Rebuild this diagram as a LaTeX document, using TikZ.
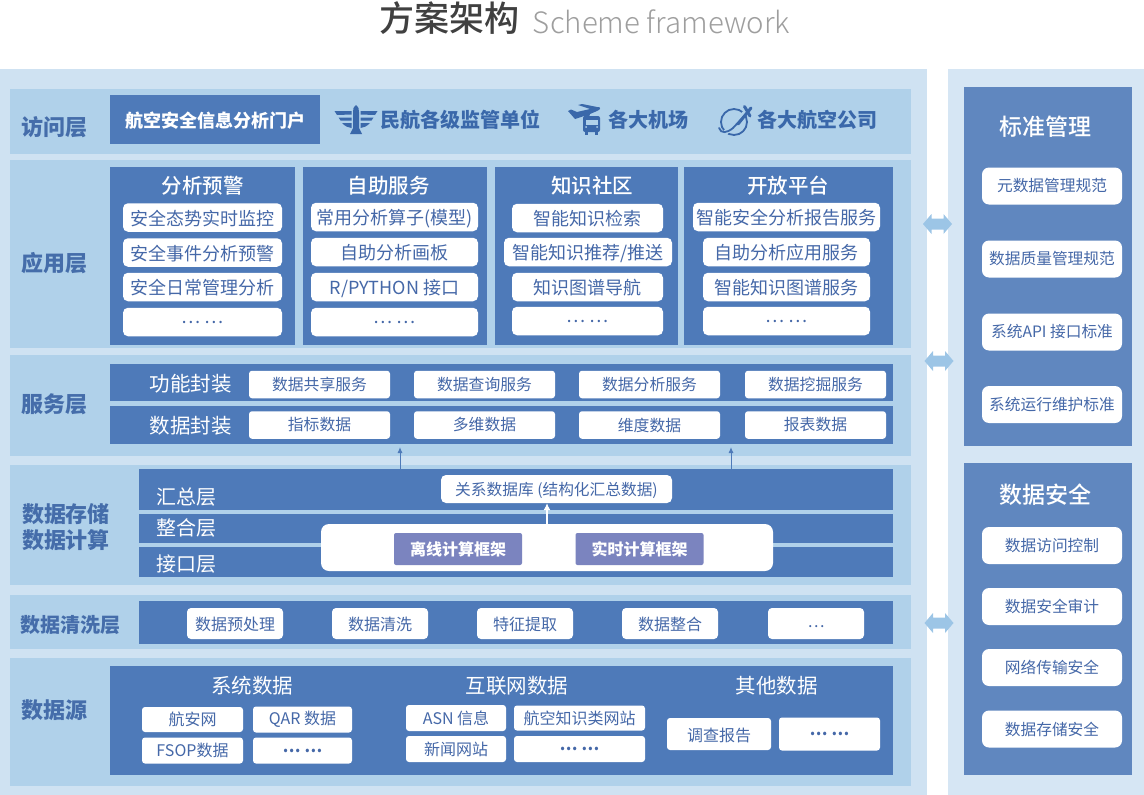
\documentclass[tikz,border=0pt]{standalone}
\usepackage{fontspec}
\setmainfont{Noto Sans CJK SC}
\newfontfamily\medfont{Noto Sans CJK SC}[UprightFont=* Medium]
\newfontfamily\lightfont{Noto Sans CJK SC}[UprightFont=* Light]
\usetikzlibrary{arrows.meta}
\definecolor{panelblue}{HTML}{CFE2F2}
\definecolor{panelright}{HTML}{D6E6F4}
\definecolor{bandblue}{HTML}{B0D1EA}
\definecolor{deepblue}{HTML}{4E7AB9}
\definecolor{sideblue}{HTML}{6087BF}
\definecolor{purpleblue}{HTML}{7B84BF}
\definecolor{labelblue}{HTML}{456DAA}
\definecolor{boxtext}{HTML}{4568A8}
\definecolor{iconblue}{HTML}{3A68AA}
\definecolor{arrowblue}{HTML}{9CC5E6}
\newcommand{\fsz}[1]{\fontsize{#1}{#1}\selectfont}
\newcommand{\lowertext}[1]{\raisebox{-1pt}[.88em][.12em]{#1}}
\tikzset{
  whitebox/.style={fill=white,rounded corners=5pt,inner sep=0pt,text=boxtext},
  purplebox/.style={fill=purpleblue,rounded corners=2pt,inner sep=0pt,text=white,font=\fsz{16}\bfseries},
  laylabel/.style={text=labelblue,font=\fsz{22}\bfseries,inner sep=0pt},
  whitelabel/.style={text=white,inner sep=0pt},
  iconlabel/.style={text=iconblue,font=\fsz{20}\bfseries,inner sep=0pt},
  smallarrow/.style={-{Latex[length=6pt,width=5pt]},deepblue,line width=1pt},
}
\begin{document}
\begin{tikzpicture}[x=1pt,y=-1pt]
  \useasboundingbox (0,0) rectangle (1144,795);

  % Title
  \node[inner sep=0pt,text=black!75,font=\fsz{35}\medfont] (title) at (449.5,18) {方案架构};
  \node[inner sep=0pt,text=black!38,font=\fsz{29.4}\lightfont] (subtitle) at (661.5,21.5) {Scheme framework};

  % Outer panels
  \fill[panelblue] (0,69) rectangle (927,795);
  \fill[panelright] (948,69) rectangle (1144,795);
  \foreach \ya/\yb in {89/154,160/348,355/456,465/585,595/649,658/786} {
    \fill[bandblue] (10,\ya) rectangle (911,\yb);
  }

  % Layer names
  \foreach \n/\x/\y/\t in {lfang/54/127/访问层,lying/54/263/应用层,lfu/54/404/服务层,
    lcun/66/514.5/数据存储,lji/66/540.5/数据计算,lyuan/54/710/数据源} {
    \node[laylabel] (\n) at (\x,\y) {\t};
  }
  \node[laylabel,font=\fsz{20}\bfseries] (lqing) at (70.5,625) {数据清洗层};

  % Access layer
  \fill[deepblue] (110,95) rectangle (320,144);
  \node[whitelabel,font=\fsz{18}\bfseries] (portal) at (215,120.5) {航空安全信息分析门户};
  \node[iconlabel] (minhang) at (460.5,120) {民航各级监管单位};
  \node[iconlabel] (jichang) at (648,120) {各大机场};
  \node[iconlabel] (hangkong) at (817.5,120) {各大航空公司};

  % Wing icon
  \foreach \s in {-1,1} {
    \begin{scope}[shift={(356,0)},xscale=\s]
      \fill[iconblue] (21.5,111) -- (4.5,111) -- (4.5,114.5) -- (19,115) -- cycle;
      \fill[iconblue] (17.5,117.5) -- (4.5,117.5) -- (4.5,120.5) -- (15.5,120.5) -- cycle;
      \fill[iconblue] (14,123) -- (4.5,123) -- (4.5,128) .. controls (8,128) and (11,126) .. (14,123) -- cycle;
      \fill[iconblue] (0,105) .. controls (2.5,106) and (3,109) .. (3,112) -- (3,128) -- (6,134) -- (0,134) -- cycle;
    \end{scope}
  }

  % Plane and bus icon
  \fill[iconblue] (568,111) -- (571,109.5) -- (577,112) -- (590,109) -- (578,105) -- (582,104) -- (597,107)
    .. controls (601,106) and (601,110) .. (597,111) -- (590,114) -- (588,120) -- (584,121) -- (584,116)
    -- (575,119) -- cycle;
  \fill[iconblue,rounded corners=2pt] (583,116) rectangle (600,132);
  \fill[iconblue] (585,131) rectangle (588,135);
  \fill[iconblue] (595,131) rectangle (598,135);
  \fill[bandblue] (585.5,120) rectangle (597.5,125);
  \fill[bandblue] (586,127) circle (1);
  \fill[bandblue] (597,127) circle (1);

  % Globe and plane icon
  \draw[iconblue,line width=1.8pt] (734,122) circle (13);
  \draw[bandblue,line width=5pt] (725,133) -- (752,106);
  \draw[iconblue,line width=1.8pt,line cap=round] (719,128) .. controls (721,134) and (727,133) .. (733,128) -- (746,114);
  \draw[iconblue,line width=3pt,line cap=round] (738,124) -- (751,108);
  \draw[iconblue,line width=3pt,line cap=round] (744.5,106.5) -- (750,116);

  % Application layer
  \foreach \ax/\bx/\hx/\t in {110/295/202.5/分析预警,303/487/388.5/自助服务,495/678/592/知识社区,684/893/788/开放平台} {
    \fill[deepblue] (\ax,167) rectangle (\bx,345);
    \node[whitelabel,font=\fsz{20.5}\medfont] (head\hx) at (\hx,185.5) {\t};
  }
  \begin{scope}[every node/.append style={font=\fsz{18}}]
    \foreach \n/\x/\y/\w/\t in {
      ana1/202.5/217.5/159/安全态势实时监控,ana2/202.5/252.5/159/安全事件分析预警,ana3/202.5/287/159/安全日常管理分析,ana4/202.5/322/159/\raisebox{6pt}{… …},
      ser1/394.5/217/167/{常用分析算子(模型)},ser2/394.5/252/167/自助分析画板,ser3/394.5/287/167/{R/PYTHON 接口},ser4/394.5/322/167/\raisebox{6pt}{… …},
      kno1/587.5/218/151/智能知识检索,kno2/588/252/168/{智能知识推荐/推送},kno3/587.5/287/151/知识图谱导航,kno4/587.5/321/151/\raisebox{6pt}{… …},
      ope1/786.5/217/187/智能安全分析报告服务,ope2/786.5/252/167/自助分析应用服务,ope3/786.5/287/167/智能知识图谱服务,ope4/786.5/321/167/\raisebox{6pt}{… …}} {
      \node[whitebox,minimum width=\w pt,minimum height=28.5pt] (\n) at (\x,\y) {\lowertext{\t}};
    }
  \end{scope}

  % Service layer
  \fill[deepblue] (110,364) rectangle (893,401);
  \fill[deepblue] (110,406) rectangle (893,444);
  \node[whitelabel,font=\fsz{20.5}] (gong) at (190.5,383.5) {功能封装};
  \node[whitelabel,font=\fsz{20.5}] (feng) at (190.5,425.5) {数据封装};
  \foreach \n/\x/\y/\t in {
    gx1/319.5/384.5/数据共享服务,gx2/484.5/384.5/数据查询服务,gx3/649.5/384.5/数据分析服务,gx4/815.5/384.5/数据挖掘服务,
    sj1/319.5/425/指标数据,sj2/484.5/425/多维数据,sj3/649.5/425/维度数据,sj4/815.5/425/报表数据} {
    \node[whitebox,font=\fsz{15.8},minimum width=141pt,minimum height=27.5pt,rounded corners=3pt] (\n) at (\x,\y) {\t};
  }

  % Storage and computing layer
  \fill[deepblue] (139,469) rectangle (893,510);
  \fill[deepblue] (139,514) rectangle (893,543);
  \fill[deepblue] (139,547) rectangle (893,577);
  \foreach \n/\y/\t in {hui/496.5/汇总层,zheng/527.5/整合层,jie/563.5/接口层} {
    \node[whitelabel,font=\fsz{20}] (\n) at (186.5,\y) {\t};
  }
  \node[whitebox,font=\fsz{15.7},minimum width=231pt,minimum height=28pt] (rdb) at (556.5,489) {\lowertext{关系数据库 (结构化汇总数据)}};
  \node[whitebox,minimum width=452pt,minimum height=47pt,rounded corners=8pt] (frame) at (547,547.5) {};
  \node[purplebox,minimum width=128pt,minimum height=32pt] (offline) at (458,549) {离线计算框架};
  \node[purplebox,minimum width=128pt,minimum height=32pt] (realtime) at (639.5,549) {实时计算框架};
  \coordinate (up1a) at (400,476);
  \coordinate (up1b) at (400,447);
  \coordinate (up2a) at (731,476);
  \coordinate (up2b) at (731,447);
  \draw[smallarrow] (up1a) -- (up1b);
  \draw[smallarrow] (up2a) -- (up2b);
  \draw[-{Latex[length=7pt,width=7pt]},white,line width=1.2pt] (frame.north) -- (frame.north |- rdb.south);

  % Cleaning layer
  \fill[deepblue] (139,601) rectangle (893,644);
  \foreach \n/\x/\t in {cl1/235/数据预处理,cl2/380/数据清洗,cl3/525/特征提取,cl4/670/数据整合,cl5/816/\raisebox{3pt}{…}} {
    \node[whitebox,font=\fsz{16},minimum width=96pt,minimum height=31pt,rounded corners=4pt] (\n) at (\x,623.5) {\lowertext{\t}};
  }

  % Data sources
  \fill[deepblue] (110,666) rectangle (893,775);
  \node[whitelabel,font=\fsz{20.5}] (sys) at (252,685.5) {系统数据};
  \node[whitelabel,font=\fsz{20.5}] (net) at (517,685.5) {互联网数据};
  \node[whitelabel,font=\fsz{20.5}] (oth) at (776.5,685.5) {其他数据};
  \foreach \n/\x/\y/\w/\h/\t in {
    src1/192.5/719.5/101/25/航安网,src2/302.5/719.5/99/26/QAR 数据,src3/192.5/750.5/101/26/FSOP数据,src4/302.5/750.5/99/26/\textbf{… …},
    src5/456/718/100/26/ASN 信息,src6/579.5/718/131/25/航空知识类网站,src7/456/749/100/26/新闻网站,src8/579.5/749/131/26/\textbf{… …},
    src9/719/734/104/32/\lowertext{调查报告},src10/829.5/734/101/33/\textbf{… …}} {
    \node[whitebox,font=\fsz{16},minimum width=\w pt,minimum height=\h pt,rounded corners=3pt] (\n) at (\x,\y) {\t};
  }

  % Standards and security columns
  \fill[sideblue] (964,87) rectangle (1132,446);
  \fill[sideblue] (964,463) rectangle (1132,775);
  \node[whitelabel,font=\fsz{23}\medfont] (std) at (1045.5,126.5) {标准管理};
  \node[whitelabel,font=\fsz{23}\medfont] (sec) at (1045.5,494.5) {数据安全};
  \foreach \n/\y/\t in {
    st1/186/元数据管理规范,st2/259/数据质量管理规范,st3/332/系统API 接口标准,st4/404.5/系统运行维护标准,
    se1/545.5/数据访问控制,se2/606.5/数据安全审计,se3/667.5/网络传输安全,se4/729/数据存储安全} {
    \node[whitebox,font=\fsz{15.7},minimum width=140pt,minimum height=37pt,rounded corners=7pt] (\n) at (1052,\y) {\t};
  }

  % Arrows between the panels
  \foreach \n/\x/\y in {link1/937.5/224,link2/939/361,link3/939/623} {
    \coordinate (\n) at (\x,\y);
    \fill[arrowblue,shift={(\n)},line join=round] (-14.5,0) -- (-6,-10) -- (-6,-5.5) -- (6,-5.5) -- (6,-10) -- (14.5,0)
      -- (6,10) -- (6,5.5) -- (-6,5.5) -- (-6,10) -- cycle;
  }
\end{tikzpicture}
\end{document}
